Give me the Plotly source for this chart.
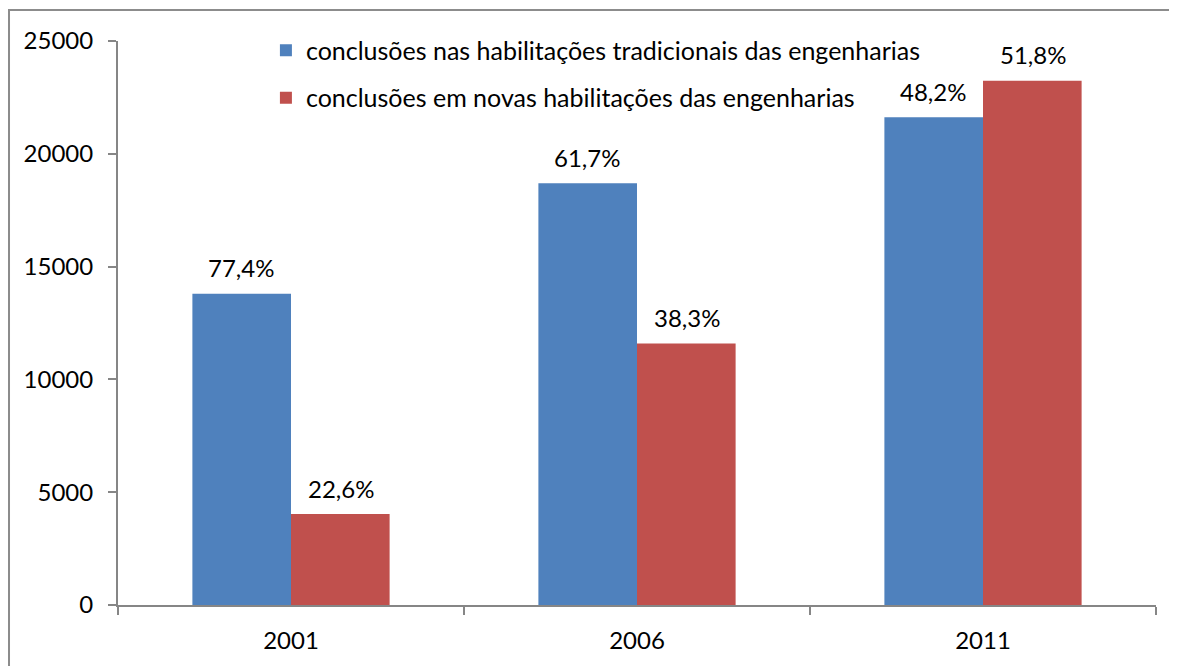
import plotly.graph_objects as go

years = ["2001", "2006", "2011"]
tradicionais = [13800, 18700, 21620]
novas = [4030, 11590, 23240]
pct_tradicionais = ["77,4%", "61,7%", "48,2%"]
pct_novas = ["22,6%", "38,3%", "51,8%"]

BLUE = "#4F81BD"
RED = "#C0504D"
AXIS_GRAY = "#868686"
FONT = "Lato"

fig = go.Figure()

fig.add_trace(go.Bar(
    x=years, y=tradicionais, name="conclusões nas habilitações tradicionais das engenharias",
    marker=dict(color=BLUE, line=dict(width=0)), legendgroup="a",
))
fig.add_trace(go.Bar(
    x=years, y=novas, name="conclusões em novas habilitações das engenharias",
    marker=dict(color=RED, line=dict(width=0)), legendgroup="b",
))

# percentage labels above each bar (category index used so "2001" isn't read as a number)
for i, (val, txt) in enumerate(zip(tradicionais, pct_tradicionais)):
    fig.add_annotation(x=i, y=val, text=txt, showarrow=False, xshift=-50, yshift=26,
                       font=dict(size=24, color="black", family=FONT))
for i, (val, txt) in enumerate(zip(novas, pct_novas)):
    fig.add_annotation(x=i, y=val, text=txt, showarrow=False, xshift=50, yshift=26,
                       font=dict(size=24, color="black", family=FONT))

# chart border (partly cropped in the reference)
fig.add_shape(type="rect", xref="paper", yref="paper",
              x0=-0.105, x1=1.2, y0=-0.3, y1=1.055,
              line=dict(color="#8C8C8C", width=2), fillcolor="rgba(0,0,0,0)")

fig.update_layout(
    width=1177,
    height=666,
    margin=dict(l=110, r=29, t=33, b=69),
    paper_bgcolor="white",
    plot_bgcolor="white",
    barmode="group",
    bargap=0.43,
    bargroupgap=0,
    font=dict(family=FONT, size=24, color="black"),
    showlegend=True,
    legend=dict(
        x=0.1425, y=1.024, xanchor="left", yanchor="top",
        orientation="v", tracegroupgap=12,
        font=dict(size=25, family=FONT, color="black"),
        bgcolor="rgba(0,0,0,0)",
    ),
    xaxis=dict(
        type="category", range=[-0.5, 2.5],
        showline=True, linecolor=AXIS_GRAY, linewidth=2,
        ticks="outside", ticklen=8, tickcolor=AXIS_GRAY, tickwidth=2,
        tickson="boundaries", showgrid=False, ticklabelstandoff=13,
        tickfont=dict(size=24, family=FONT, color="black"),
    ),
    yaxis=dict(
        range=[0, 25000], dtick=5000, showline=True, linecolor=AXIS_GRAY, linewidth=2,
        ticks="outside", ticklen=8, tickcolor=AXIS_GRAY, tickwidth=2,
        showgrid=False, zeroline=False, ticklabelstandoff=10,
        tickformat="d",
        tickfont=dict(size=24, family=FONT, color="black"),
    ),
)

fig.write_html("out.html")
